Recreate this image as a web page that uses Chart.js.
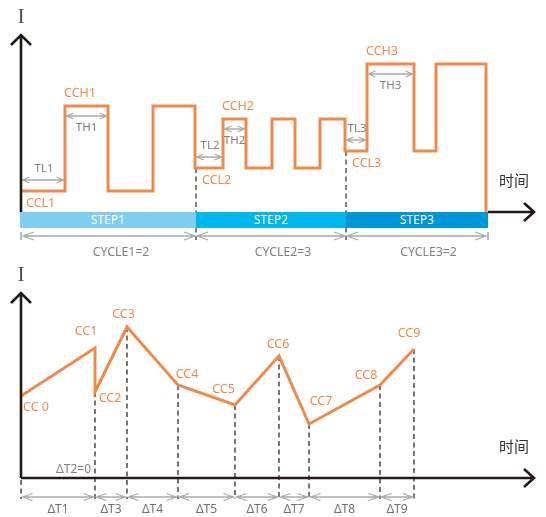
<!DOCTYPE html>
<html><head><meta charset="utf-8">
<script src="https://cdn.jsdelivr.net/npm/chart.js@4.4.1/dist/chart.umd.min.js"></script>
<style>
html,body{margin:0;padding:0;background:#fff;width:546px;height:517px;overflow:hidden}
canvas{position:absolute;left:0}
#c1{top:0}#c2{top:260px}
</style></head><body>
<canvas id="c1" width="546" height="260"></canvas>
<canvas id="c2" width="546" height="257"></canvas>
<script>
// ---------- top chart data (time units, current units) ----------
const edgeTimes  = [0, 44, 87, 132, 174, 202, 225, 251, 274, 299, 324, 346, 393, 415, 465];
const edgeLevels = [21, 106, 21, 106, 44, 93, 44, 93, 44, 93, 61, 148, 61, 148, 0];
const stepBounds = [0, 174, 324, 465];
const stepNames = ['STEP1', 'STEP2', 'STEP3'];
const cycleLabels = ['CYCLE1=2', 'CYCLE2=3', 'CYCLE3=2'];
const lowLabels = ['CCL1', 'CCL2', 'CCL3'];
const highLabels = ['CCH1', 'CCH2', 'CCH3'];
const lowTimeLabels = ['TL1', 'TL2', 'TL3'];
const highTimeLabels = ['TH1', 'TH2', 'TH3'];

// ---------- bottom chart data ----------
const ccTimes  = [0, 74, 74, 106, 157, 214, 258, 288, 359, 393];
const ccValues = [82, 130, 86, 151, 93, 73, 122, 54, 93, 129];
const ccLabels = ['CC 0', 'CC1', 'CC2', 'CC3', 'CC4', 'CC5', 'CC6', 'CC7', 'CC8', 'CC9'];
const dtLabels = ['ΔT1', 'ΔT2=0', 'ΔT3', 'ΔT4', 'ΔT5', 'ΔT6', 'ΔT7', 'ΔT8', 'ΔT9'];
const axisTitleY = 'I';
const axisTitleX = '时间';

// ---------- styles ----------
const ORANGE = '#F08A4B';
const AXIS = '#231815';
const ARROW = '#ABABAB';
const GTEXT = '#808080';
const DASH = '#5E5E5E';
const stepColors = ['#80CEF2', '#00B7EE', '#0097D8'];
const FONT_LBL = '12.5px "Noto Sans", sans-serif';
const FONT_ANN = '11.5px "Noto Sans", sans-serif';
const FONT_CYC = '12.3px "Noto Sans", sans-serif';
const FONT_DT = '12px "Noto Sans", sans-serif';
const FONT_STEP = '12px "Noto Sans", sans-serif';
const FONT_CJK = '15px "Noto Sans CJK SC", sans-serif';
const FONT_I = '20px "Liberation Serif", serif';
// label placement for CC points: [dx, dy] from point (text centre)
const ccLabelOffsets = [[15, 11], [-9, -17], [15, 6.5], [-3.5, -13], [9, -11], [-11.5, -16], [-1, -12], [12, -23], [-14, -9.5], [-5, -16]];

function dblArrow(ctx, x1, x2, y, hl, hw) {
  ctx.save();
  ctx.strokeStyle = ARROW; ctx.lineWidth = 1.3;
  ctx.beginPath();
  ctx.moveTo(x1, y); ctx.lineTo(x2, y);
  ctx.moveTo(x1 + hl, y - hw); ctx.lineTo(x1, y); ctx.lineTo(x1 + hl, y + hw);
  ctx.moveTo(x2 - hl, y - hw); ctx.lineTo(x2, y); ctx.lineTo(x2 - hl, y + hw);
  ctx.stroke();
  ctx.restore();
}
function text(ctx, s, x, y, font, color, align) {
  ctx.save();
  ctx.font = font; ctx.fillStyle = color; ctx.textAlign = align || 'center'; ctx.textBaseline = 'middle';
  ctx.fillText(s, x, y);
  ctx.restore();
}
function axes(ctx, ox, oy, topY, rightX, startX) {
  ctx.save();
  ctx.strokeStyle = AXIS; ctx.lineWidth = 2.6; ctx.lineJoin = 'miter'; ctx.lineCap = 'butt';
  ctx.beginPath();
  ctx.moveTo(ox, oy); ctx.lineTo(ox, topY + 1);
  ctx.moveTo(ox - 10, topY + 10); ctx.lineTo(ox, topY); ctx.lineTo(ox + 10, topY + 10);
  ctx.moveTo(startX, oy); ctx.lineTo(rightX - 1, oy);
  ctx.moveTo(rightX - 10, oy - 9); ctx.lineTo(rightX, oy); ctx.lineTo(rightX - 10, oy + 9);
  ctx.stroke();
  ctx.restore();
  text(ctx, axisTitleY, ox, topY - 17, FONT_I, '#4a4a4a');
  text(ctx, axisTitleX, rightX - 20, oy - 32, FONT_CJK, '#333333');
}

const topPlugin = {
  id: 'topDeco',
  beforeDatasetsDraw(chart) {
    const { ctx, scales: { x, y } } = chart;
    const px = v => x.getPixelForValue(v), py = v => y.getPixelForValue(v);
    const barTop = py(0), barBot = py(-16);
    ctx.save();
    ctx.strokeStyle = DASH; ctx.lineWidth = 1.6; ctx.setLineDash([5, 3.5]);
    for (let s = 1; s < stepBounds.length - 1; s++) {
      const i = edgeTimes.indexOf(stepBounds[s]);
      ctx.beginPath();
      ctx.moveTo(px(stepBounds[s]) + 1, py(edgeLevels[i]));
      ctx.lineTo(px(stepBounds[s]) + 1, barBot + 12);
      ctx.stroke();
    }
    ctx.setLineDash([]);
    ctx.strokeStyle = '#9a9a9a'; ctx.lineWidth = 1.3;
    [0, stepBounds.length - 1].forEach(k => {
      ctx.beginPath();
      ctx.moveTo(px(stepBounds[k]) + (k ? 2 : 0), barBot + 4);
      ctx.lineTo(px(stepBounds[k]) + (k ? 2 : 0), barBot + 12);
      ctx.stroke();
    });
    ctx.restore();
    for (let s = 0; s < stepNames.length; s++) {
      const x1 = px(stepBounds[s]) - (s === 0 ? 1 : 0) + (s ? 1 : 0), x2 = px(stepBounds[s + 1]) + (s === stepNames.length - 1 ? 2 : 1);
      ctx.fillStyle = stepColors[s];
      ctx.fillRect(x1, barTop, x2 - x1, barBot - barTop);
      text(ctx, stepNames[s], (x1 + x2) / 2, (barTop + barBot) / 2 + 0.5, FONT_STEP, '#ffffff');
      const a1 = px(stepBounds[s]) + 1, a2 = px(stepBounds[s + 1]) + 1;
      dblArrow(ctx, a1 + 1, a2 - 1, barBot + 8, 11, 4);
      text(ctx, cycleLabels[s], (a1 + a2) / 2 + 12, barBot + 24, FONT_CYC, GTEXT);
    }
  },
  afterDatasetsDraw(chart) {
    const { ctx, chartArea, scales: { x, y } } = chart;
    const px = v => x.getPixelForValue(v), py = v => y.getPixelForValue(v);
    for (let s = 0; s < stepNames.length; s++) {
      const i = edgeTimes.indexOf(stepBounds[s]);
      const t0 = px(stepBounds[s]), tr = px(edgeTimes[i + 1]), tf = px(edgeTimes[i + 2]);
      const lo = py(edgeLevels[i]), hi = py(edgeLevels[i + 1]);
      const tlY = lo - 11;
      dblArrow(ctx, t0 + 1.5, tr - 1.5, tlY, 7, 3);
      text(ctx, lowTimeLabels[s], (t0 + tr) / 2 + 1, tlY - 11, FONT_ANN, GTEXT);
      const thY = hi + 10;
      dblArrow(ctx, tr + 1.5, tf - 1.5, thY, 7, 3);
      text(ctx, highTimeLabels[s], (tr + tf) / 2, thY + 12, FONT_ANN, GTEXT);
      text(ctx, highLabels[s], tr - 1, hi - 13, FONT_LBL, ORANGE, 'left');
      text(ctx, lowLabels[s], t0 + 5 + (s ? 2 : 0), lo + 12, FONT_LBL, ORANGE, 'left');
    }
    axes(ctx, px(0), py(0), chartArea.top, chartArea.right - 1, px(stepBounds[stepBounds.length - 1]) + 2);
  }
};

const bottomPlugin = {
  id: 'bottomDeco',
  beforeDatasetsDraw(chart) {
    const { ctx, scales: { x, y } } = chart;
    const px = v => x.getPixelForValue(v), py = v => y.getPixelForValue(v);
    const base = py(0);
    ctx.save();
    ctx.strokeStyle = DASH; ctx.lineWidth = 1.7; ctx.setLineDash([5, 3.5]);
    const times = [...new Set(ccTimes)];
    times.forEach(t => {
      const lowest = Math.min(...ccValues.filter((v, k) => ccTimes[k] === t));
      ctx.beginPath();
      ctx.moveTo(px(t), t === 0 ? base + 2 : py(lowest));
      ctx.lineTo(px(t), base + 21);
      ctx.stroke();
    });
    ctx.restore();
  },
  afterDatasetsDraw(chart) {
    const { ctx, chartArea, scales: { x, y } } = chart;
    const px = v => x.getPixelForValue(v), py = v => y.getPixelForValue(v);
    const base = py(0);
    for (let k = 0; k < ccTimes.length - 1; k++) {
      const a = px(ccTimes[k]), b = px(ccTimes[k + 1]);
      if (b - a < 1) {
        text(ctx, dtLabels[k], a - 4, base - 8, FONT_DT, GTEXT, 'right');
        continue;
      }
      dblArrow(ctx, a + 1.5, b - 1.5, base + 19, 10, 3.5);
      text(ctx, dtLabels[k], (a + b) / 2, base + 32, FONT_DT, '#707070');
    }
    ccLabels.forEach((l, k) => {
      text(ctx, l, px(ccTimes[k]) + ccLabelOffsets[k][0], py(ccValues[k]) + ccLabelOffsets[k][1], FONT_LBL, ORANGE);
    });
    axes(ctx, px(0), base, chartArea.top, chartArea.right - 1, px(0));
  }
};

const common = {
  responsive: false,
  animation: false,
  events: [],
  plugins: { legend: { display: false }, tooltip: { enabled: false } },
  elements: { point: { radius: 0 } }
};

let charts = [];
function build() {
  charts.forEach(c => c.destroy());
  charts = [];
  charts.push(new Chart(document.getElementById('c1'), {
    type: 'line',
    data: { datasets: [{
      data: edgeTimes.map((t, i) => ({ x: t, y: edgeLevels[i] })),
      borderColor: ORANGE, borderWidth: 3, stepped: 'before', fill: false,
      borderJoinStyle: 'miter', borderCapStyle: 'butt', clip: false
    }] },
    options: Object.assign({}, common, {
      layout: { padding: { left: 21, right: 11, top: 35, bottom: 32 } },
      scales: {
        x: { type: 'linear', min: 0, max: 514, display: false },
        y: { type: 'linear', min: -16, max: 177, display: false }
      }
    }),
    plugins: [topPlugin]
  }));
  charts.push(new Chart(document.getElementById('c2'), {
    type: 'line',
    data: { datasets: [{
      data: ccTimes.map((t, i) => ({ x: t, y: ccValues[i] })),
      borderColor: ORANGE, borderWidth: 3, fill: false, tension: 0,
      borderJoinStyle: 'miter', borderCapStyle: 'butt', clip: false
    }] },
    options: Object.assign({}, common, {
      layout: { padding: { left: 21, right: 11, top: 33, bottom: 39 } },
      scales: {
        x: { type: 'linear', min: 0, max: 514, display: false },
        y: { type: 'linear', min: 0, max: 185, display: false }
      }
    }),
    plugins: [bottomPlugin]
  }));
}
build();
if (document.fonts && document.fonts.load) {
  Promise.all([
    document.fonts.load('12px "Noto Sans"'),
    document.fonts.load('15px "Noto Sans CJK SC"', '时间'),
    document.fonts.load('20px "Liberation Serif"')
  ]).then(build).catch(() => {});
}
</script>
</body></html>
